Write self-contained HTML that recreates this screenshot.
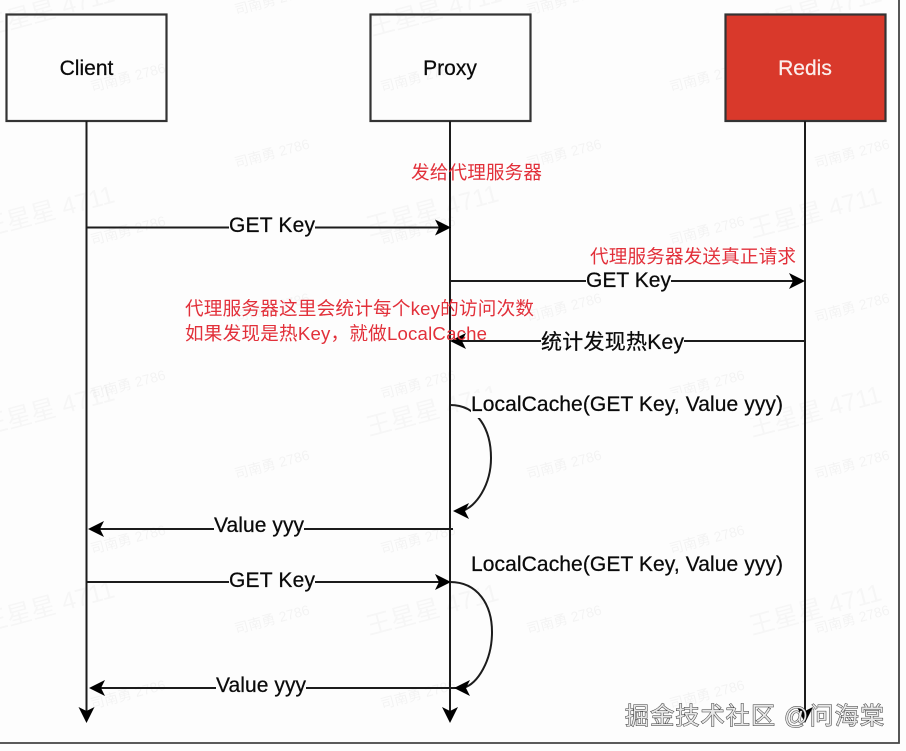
<!DOCTYPE html>
<html lang="zh">
<head>
<meta charset="utf-8">
<title>Redis 热 Key 本地缓存时序图</title>
<style>
html,body{margin:0;padding:0;background:#fdfdfd;width:906px;height:751px;overflow:hidden}
svg{display:block;filter:blur(.3px)}
.t{font-family:"Liberation Sans","Noto Sans CJK SC",sans-serif;font-size:21px;fill:#0a0a0a;stroke:#0a0a0a;stroke-width:.25}
.r{font-family:"Liberation Sans","Noto Sans CJK SC",sans-serif;font-size:18.6px;fill:#e2303a}
.big{font-family:"Liberation Sans","Noto Sans CJK SC",sans-serif;font-size:25px;fill:#000;opacity:.03}
.sm{font-family:"Liberation Sans","Noto Sans CJK SC",sans-serif;font-size:14px;fill:#000;opacity:.04}
.ln{stroke:#1c1c1c;stroke-width:2;fill:none}
.box{stroke:#333;stroke-width:2.2}
.ah{fill:#000}
</style>
</head>
<body>
<svg width="906" height="751" viewBox="0 0 906 751" xmlns="http://www.w3.org/2000/svg">
<rect width="906" height="751" fill="#fdfdfd"/>

<!-- watermarks -->
<g class="big">
<text transform="translate(-15,36) rotate(-15)">王星星 4711</text>
<text transform="translate(372,36) rotate(-15)">王星星 4711</text>
<text transform="translate(752,36) rotate(-15)">王星星 4711</text>
<text transform="translate(-15,237) rotate(-15)">王星星 4711</text>
<text transform="translate(369,236) rotate(-15)">王星星 4711</text>
<text transform="translate(752,238) rotate(-15)">王星星 4711</text>
<text transform="translate(-15,435) rotate(-15)">王星星 4711</text>
<text transform="translate(369,436) rotate(-15)">王星星 4711</text>
<text transform="translate(752,437) rotate(-15)">王星星 4711</text>
<text transform="translate(-15,632) rotate(-15)">王星星 4711</text>
<text transform="translate(369,635) rotate(-15)">王星星 4711</text>
<text transform="translate(752,635) rotate(-15)">王星星 4711</text>
</g>
<g class="sm">
<text transform="translate(92,92) rotate(-15)">司南勇 2786</text>
<text transform="translate(92,245) rotate(-15)">司南勇 2786</text>
<text transform="translate(92,399) rotate(-15)">司南勇 2786</text>
<text transform="translate(92,554) rotate(-15)">司南勇 2786</text>
<text transform="translate(92,709) rotate(-15)">司南勇 2786</text>
<text transform="translate(382,92) rotate(-15)">司南勇 2786</text>
<text transform="translate(382,245) rotate(-15)">司南勇 2786</text>
<text transform="translate(382,399) rotate(-15)">司南勇 2786</text>
<text transform="translate(382,554) rotate(-15)">司南勇 2786</text>
<text transform="translate(382,709) rotate(-15)">司南勇 2786</text>
<text transform="translate(671,92) rotate(-15)">司南勇 2786</text>
<text transform="translate(671,245) rotate(-15)">司南勇 2786</text>
<text transform="translate(671,399) rotate(-15)">司南勇 2786</text>
<text transform="translate(671,554) rotate(-15)">司南勇 2786</text>
<text transform="translate(671,709) rotate(-15)">司南勇 2786</text>
<text transform="translate(236,15) rotate(-15)">司南勇 2786</text>
<text transform="translate(236,168) rotate(-15)">司南勇 2786</text>
<text transform="translate(236,322) rotate(-15)">司南勇 2786</text>
<text transform="translate(236,479) rotate(-15)">司南勇 2786</text>
<text transform="translate(236,634) rotate(-15)">司南勇 2786</text>
<text transform="translate(528,15) rotate(-15)">司南勇 2786</text>
<text transform="translate(528,168) rotate(-15)">司南勇 2786</text>
<text transform="translate(528,322) rotate(-15)">司南勇 2786</text>
<text transform="translate(528,479) rotate(-15)">司南勇 2786</text>
<text transform="translate(528,634) rotate(-15)">司南勇 2786</text>
<text transform="translate(816,168) rotate(-15)">司南勇 2786</text>
<text transform="translate(816,322) rotate(-15)">司南勇 2786</text>
<text transform="translate(816,479) rotate(-15)">司南勇 2786</text>
<text transform="translate(816,634) rotate(-15)">司南勇 2786</text>
</g>

<!-- outer frame -->
<path d="M0 743H899V0" fill="none" stroke="#444" stroke-width="1.8"/>

<!-- boxes -->
<rect class="box" x="6.5" y="14.5" width="160" height="106.5" fill="none"/>
<rect class="box" x="370.5" y="14.5" width="160" height="106.5" fill="none"/>
<rect class="box" x="725.5" y="14.5" width="160" height="106.5" fill="#d9392b"/>
<text class="t" x="86.5" y="75" text-anchor="middle">Client</text>
<text class="t" x="450" y="75" text-anchor="middle">Proxy</text>
<text class="t" x="805" y="75" text-anchor="middle" style="fill:#fbeeec;stroke:#fbeeec">Redis</text>

<!-- lifelines -->
<path class="ln" d="M86.5 121V712M450 121V712M805 121V712"/>
<path class="ah" d="M86.5 723L78.5 707L86.5 711L94.5 707Z"/>
<path class="ah" d="M450 723L442 707L450 711L458 707Z"/>
<path class="ah" d="M805 723L797 707L805 711L813 707Z"/>

<!-- messages -->
<path class="ln" d="M86.5 227.5H441"/>
<path class="ah" d="M451 227.5L435 219.5L439 227.5L435 235.5Z"/>
<rect x="229" y="214" width="86" height="24" fill="#fdfdfd"/>
<text class="t" x="229" y="232" textLength="86">GET Key</text>

<path class="ln" d="M450 281H795"/>
<path class="ah" d="M805 281L789 273L793 281L789 289Z"/>
<rect x="586" y="269" width="85" height="24" fill="#fdfdfd"/>
<text class="t" x="586" y="287" textLength="85">GET Key</text>

<path class="ln" d="M805 341H460"/>
<path class="ah" d="M450 341L466 333L462 341L466 349Z"/>
<rect x="541" y="330" width="143" height="24" fill="#fdfdfd"/>
<text class="t" x="541" y="349" textLength="143">统计发现热Key</text>

<path class="ln" d="M453 529H98"/>
<path class="ah" d="M88 529L104 521L100 529L104 537Z"/>
<rect x="214" y="516" width="90" height="24" fill="#fdfdfd"/>
<text class="t" x="214" y="532" textLength="90">Value yyy</text>

<path class="ln" d="M86.5 582H441"/>
<path class="ah" d="M451 582L435 574L439 582L435 590Z"/>
<rect x="229" y="570" width="86" height="24" fill="#fdfdfd"/>
<text class="t" x="229" y="587" textLength="86">GET Key</text>

<path class="ln" d="M456 688H99"/>
<path class="ah" d="M89 688L105 680L101 688L105 696Z"/>
<rect x="216" y="676" width="90" height="24" fill="#fdfdfd"/>
<text class="t" x="216" y="692" textLength="90">Value yyy</text>

<!-- self loops -->
<path class="ln" d="M450 405C478 405 491 430 491 458C491 485 476 507 462 511"/>
<path class="ah" d="M453 511L469 503L465 511L469 519Z"/>
<rect x="471" y="393" width="312" height="25" fill="#fdfdfd"/>
<text class="t" x="471" y="411" textLength="312">LocalCache(GET Key, Value yyy)</text>

<path class="ln" d="M450 582C478 582 492 605 492 632C492 660 478 684 463 688"/>
<path class="ah" d="M454 688L470 680L466 688L470 696Z"/>
<text class="t" x="471" y="571" textLength="312">LocalCache(GET Key, Value yyy)</text>

<!-- red notes -->
<text class="r" x="411" y="179" textLength="131">发给代理服务器</text>
<text class="r" x="590" y="263" textLength="206">代理服务器发送真正请求</text>
<text class="r" x="185" y="315" textLength="349">代理服务器这里会统计每个key的访问次数</text>
<text class="r" x="185" y="340" textLength="302">如果发现是热Key，就做LocalCache</text>

<!-- site watermark -->
<text x="625" y="724" textLength="259" style="font-family:'Liberation Sans','Noto Sans CJK SC',sans-serif;font-size:24px;fill:#e8e8e8;stroke:#333;stroke-width:1;paint-order:stroke">掘金技术社区 @问海棠</text>
</svg>
</body>
</html>
